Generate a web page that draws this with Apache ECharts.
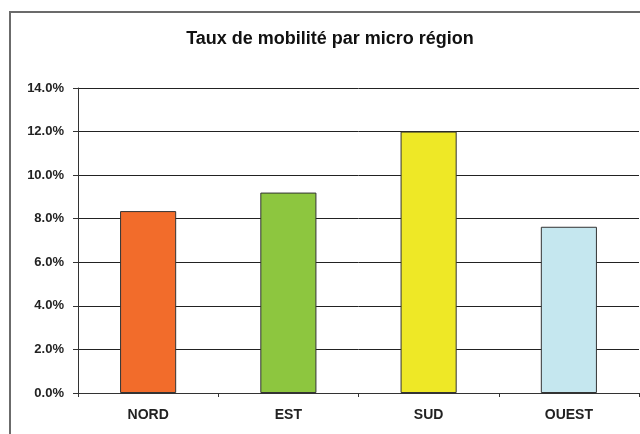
<!DOCTYPE html>
<html><head><meta charset="utf-8">
<script src="https://cdn.jsdelivr.net/npm/echarts@6/dist/echarts.min.js"></script>
<style>html,body{margin:0;padding:0;background:#fff}#c{width:640px;height:434px}</style>
</head><body><div id="c"></div>
<script>
const titleText = 'Taux de mobilité par micro région';
const categories = ['NORD', 'EST', 'SUD', 'OUEST'];
const values = [8.35, 9.2, 12.0, 7.63];
const colors = ['#F26C2B', '#8DC63F', '#EEE826', '#C5E7EF'];

const chart = echarts.init(document.getElementById('c'));
chart.setOption({
  animation: false,
  backgroundColor: '#fff',
  graphic: [{
    type: 'rect', shape: { x: 10, y: 12, width: 640, height: 440 },
    style: { fill: 'none', stroke: '#6b6b6b', lineWidth: 2 }, z: 0
  }],
  title: {
    text: titleText, left: 325, top: 25, textAlign: 'center',
    textStyle: { fontFamily: 'Liberation Sans', fontWeight: 'bold', fontSize: 18, color: '#111' }
  },
  grid: { left: 78, right: 1, top: 88, bottom: 41 },
  xAxis: {
    type: 'category', data: categories,
    axisLine: { lineStyle: { color: '#333', width: 1 } },
    axisTick: { show: true, length: 4, alignWithLabel: false, lineStyle: { color: '#333' } },
    axisLabel: { fontFamily: 'Liberation Sans', fontWeight: 'bold', fontSize: 14, color: '#222', margin: 15 }
  },
  yAxis: {
    type: 'value', min: 0, max: 14, interval: 2,
    axisLine: { show: true, lineStyle: { color: '#333', width: 1 } },
    axisTick: { show: true, length: 5, lineStyle: { color: '#333' } },
    splitLine: { lineStyle: { color: '#222', width: 1 } },
    axisLabel: {
      fontFamily: 'Liberation Sans', fontWeight: 'bold', fontSize: 13, color: '#222', margin: 14,
      formatter: v => v.toFixed(1) + '%'
    }
  },
  series: [{
    type: 'bar', barWidth: '40%',
    data: values.map((v, i) => ({ value: v, itemStyle: { color: colors[i] } })),
    itemStyle: { borderColor: '#333', borderWidth: 1 }
  }]
});
</script></body></html>
